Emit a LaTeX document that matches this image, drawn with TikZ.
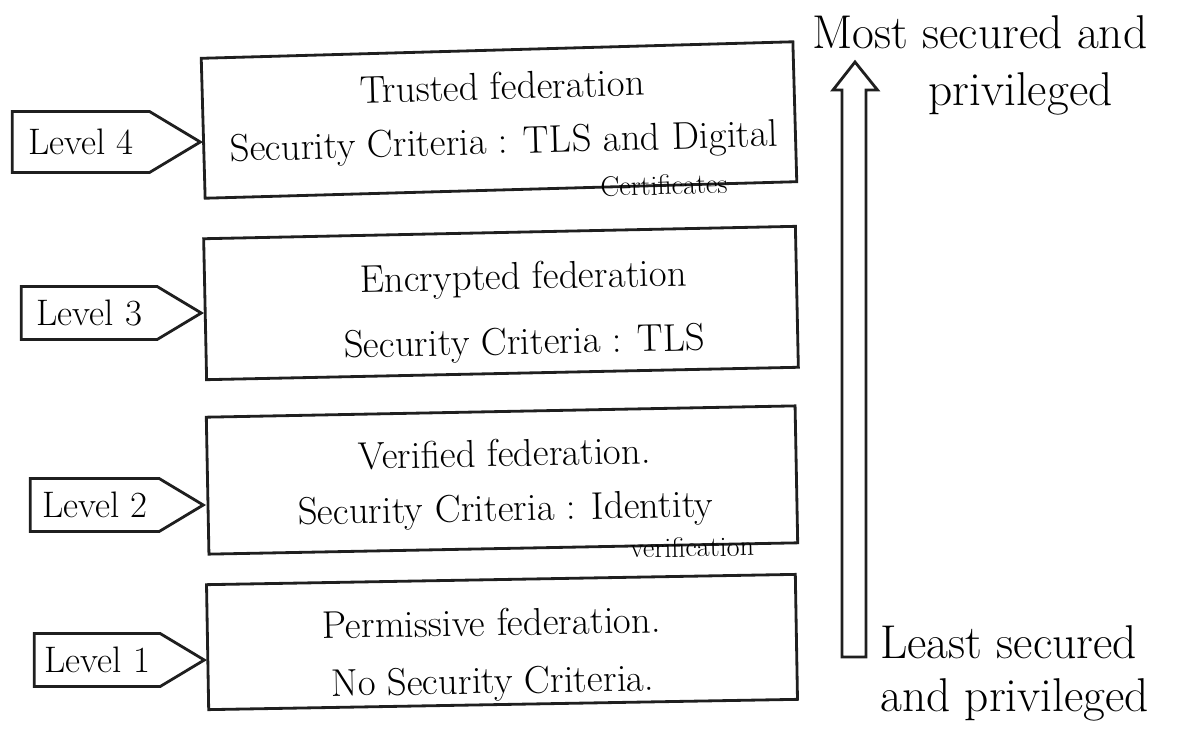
\documentclass[tikz,border=0pt]{standalone}
\usetikzlibrary{shapes.symbols}
\begin{document}
\begin{tikzpicture}[x=0.02cm,y=-0.02cm,
  ink/.style={draw=black!88, line width=1.6pt},
  fedbox/.style={ink, rectangle, inner sep=0pt},
  boxtext/.style={align=center, inner sep=0pt, font=\fontsize{22}{31}\selectfont},
  leveltag/.style={ink, signal, signal to=east, signal pointer angle=62,
    inner sep=2pt, anchor=east, font=\fontsize{21}{24}\selectfont},
  note/.style={inner sep=0pt, font=\fontsize{16}{18}\selectfont},
  side/.style={inner sep=0pt, anchor=west, font=\fontsize{27}{30}\selectfont}]
\useasboundingbox (0,0) rectangle (1193,744);

% federation levels, most secure on top
\node[fedbox, minimum width=11.84cm, minimum height=2.8cm, rotate=1.6] (B4) at (499,120) {};
\node[boxtext, rotate=1.6] (T4) at (503,117) {Trusted federation\\Security Criteria : TLS and Digital};
\node[note, rotate=1.6] (C4) at (664,185) {Certificates};

\node[fedbox, minimum width=11.84cm, minimum height=2.82cm, rotate=1.2] (B3) at (501,303) {};
\node[boxtext, rotate=1.2] (T3) at (524,312) {Encrypted federation\\[6pt]Security Criteria : TLS};

\node[fedbox, minimum width=11.78cm, minimum height=2.74cm, rotate=1.1] (B2) at (502,480) {};
\node[boxtext, rotate=1.1] (T2) at (505,484) {Verified federation.\\Security Criteria : Identity};
\node[note, rotate=1.1] (C2) at (692,547) {verification};

\node[fedbox, minimum width=11.78cm, minimum height=2.5cm, rotate=1.0] (B1) at (502,642) {};
\node[boxtext, rotate=1.0] (T1) at (492,655) {Permissive federation.\\[2pt]No Security Criteria.};

% level tags pointing at their boxes
\node[leveltag, minimum width=3.76cm, minimum height=1.22cm] (L4) at (203,142) {Level 4};
\node[leveltag, minimum width=3.6cm, minimum height=1.06cm] (L3) at (204,313) {Level 3};
\node[leveltag, minimum width=3.46cm, minimum height=1.06cm] (L2) at (206,505) {Level 2};
\node[leveltag, minimum width=3.4cm, minimum height=1.06cm] (L1) at (207,660) {Level 1};

% hollow arrow: least secure (bottom) to most secure (top)
\coordinate (lo) at (854,657);
\coordinate (hi) at (855,62);
\draw[ink, line join=miter]
  ([xshift=-0.24cm]lo) -- ([xshift=-0.26cm,yshift=-0.56cm]hi)
  -- ([xshift=-0.44cm,yshift=-0.56cm]hi) -- (hi)
  -- ([xshift=0.45cm,yshift=-0.56cm]hi) -- ([xshift=0.22cm,yshift=-0.56cm]hi)
  -- ([xshift=0.24cm]lo) -- cycle;

\node[side] (M1) at (812,32) {Most secured and};
\node[side] (M2) at (928,94) {privileged};
\node[side] (S1) at (880,642) {Least secured};
\node[side] (S2) at (880,700) {and privileged};
\end{tikzpicture}
\end{document}
